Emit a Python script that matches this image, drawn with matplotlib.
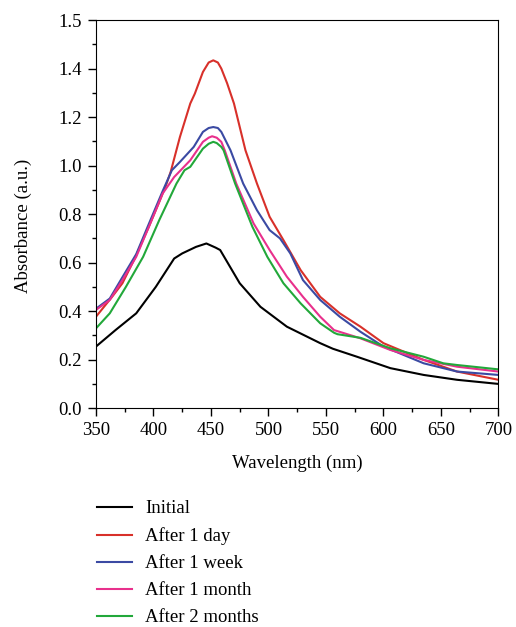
import numpy as np
import matplotlib
matplotlib.use('Agg')
import matplotlib.pyplot as plt
from matplotlib.ticker import MultipleLocator

plt.rcParams['font.family'] = ['Liberation Serif', 'DejaVu Serif']
plt.rcParams['font.size'] = 13.5

# Espectros
wl_inicial = [350, 367, 385, 402, 418, 425, 437, 446, 454, 458, 475, 493, 516, 545, 556, 577, 606, 635, 664, 700]
abs_inicial = [0.254, 0.322, 0.391, 0.50, 0.617, 0.638, 0.665, 0.679, 0.662, 0.652, 0.515, 0.418, 0.336, 0.268, 0.245, 0.212, 0.165, 0.137, 0.117, 0.100]

wl_dia = [350, 364, 373, 384, 396, 405, 411, 415, 423, 432, 436, 443, 448, 452, 456, 459, 464, 470, 480, 490, 501, 513, 528, 545, 562, 580, 600, 635, 664, 700]
abs_dia = [0.377, 0.459, 0.515, 0.62, 0.748, 0.85, 0.92, 0.975, 1.118, 1.256, 1.297, 1.386, 1.425, 1.434, 1.425, 1.40, 1.34, 1.256, 1.063, 0.926, 0.789, 0.693, 0.569, 0.459, 0.391, 0.336, 0.268, 0.199, 0.151, 0.117]

wl_semana = [350, 362, 373, 385, 396, 408, 416, 423, 435, 443, 448, 452, 456, 459, 467, 478, 490, 501, 510, 519, 530, 545, 562, 580, 600, 635, 664, 700]
abs_semana = [0.41, 0.452, 0.54, 0.635, 0.76, 0.895, 0.981, 1.015, 1.077, 1.139, 1.155, 1.159, 1.155, 1.139, 1.063, 0.926, 0.816, 0.734, 0.70, 0.638, 0.528, 0.446, 0.377, 0.315, 0.254, 0.185, 0.151, 0.137]

wl_mes = [350, 362, 373, 385, 396, 408, 418, 432, 443, 448, 451, 455, 459, 462, 472, 487, 501, 516, 530, 545, 557, 580, 606, 635, 664, 700]
abs_mes = [0.405, 0.446, 0.528, 0.624, 0.748, 0.885, 0.953, 1.022, 1.098, 1.115, 1.121, 1.115, 1.098, 1.063, 0.926, 0.762, 0.652, 0.542, 0.459, 0.377, 0.322, 0.288, 0.24, 0.199, 0.171, 0.151]

wl_2meses = [350, 362, 376, 391, 405, 420, 427, 432, 443, 448, 452, 455, 459, 461, 471, 486, 499, 513, 528, 545, 557, 560, 580, 606, 635, 652, 664, 700]
abs_2meses = [0.329, 0.391, 0.50, 0.624, 0.775, 0.926, 0.981, 0.995, 1.07, 1.09, 1.098, 1.093, 1.077, 1.063, 0.926, 0.748, 0.624, 0.515, 0.432, 0.35, 0.311, 0.305, 0.29, 0.247, 0.212, 0.185, 0.178, 0.16]

etiquetas = ['Initial', 'After 1 day', 'After 1 week', 'After 1 month', 'After 2 months']
colores = ['black', '#d8302a', '#3b4aa3', '#e8308c', '#22a83a']

y_ticks = [0.0, 0.2, 0.4, 0.6, 0.8, 1.0, 1.2, 1.4, 1.6]
y_tick_labels = ['0.0', '0.2', '0.4', '0.6', '0.8', '1.0', '1.2', '1.4', '1.5']

fig = plt.figure(figsize=(5.16, 6.27), dpi=100)
ax = fig.add_axes([0.186, 0.349, 0.78, 0.619])

series = [(wl_inicial, abs_inicial), (wl_dia, abs_dia), (wl_semana, abs_semana),
          (wl_mes, abs_mes), (wl_2meses, abs_2meses)]
for i, (x, y) in enumerate(series):
    ax.plot(x, y, color=colores[i], lw=1.5, label=etiquetas[i])

ax.set_xlim(350, 700)
ax.set_ylim(0, 1.6)
ax.set_yticks(y_ticks)
ax.set_yticklabels(y_tick_labels)
ax.xaxis.set_major_locator(MultipleLocator(50))
ax.xaxis.set_minor_locator(MultipleLocator(25))
ax.yaxis.set_minor_locator(MultipleLocator(0.1))
ax.tick_params(which='major', direction='out', length=6, width=1, pad=4)
ax.tick_params(which='minor', direction='out', length=3, width=1)
ax.set_xlabel('Wavelength (nm)', labelpad=11)
ax.set_ylabel('Absorbance (a.u.)', labelpad=19)
ax.yaxis.label.set_y(0.75 / 1.6)  # centrado en el rango 0-1.5

handles, labels = ax.get_legend_handles_labels()
fig.legend(handles, labels, loc='upper left', bbox_to_anchor=(0.188, 0.202),
           frameon=False, handlelength=1.87, handletextpad=0.7, labelspacing=0.53,
           borderpad=0, borderaxespad=0)

plt.savefig('out.png', dpi=100)
